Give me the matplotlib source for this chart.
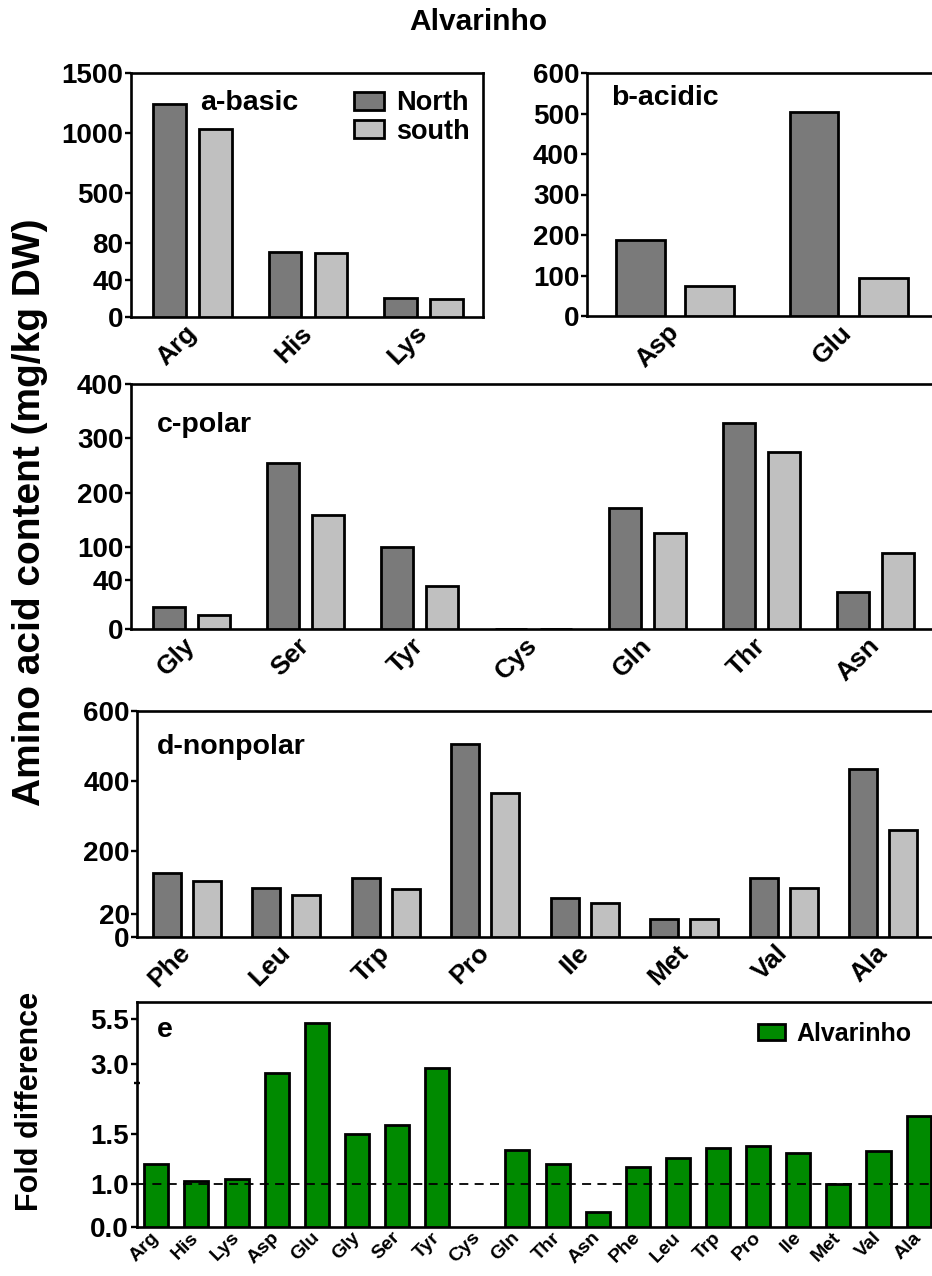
import numpy as np
import matplotlib
matplotlib.use("Agg")
import matplotlib.pyplot as plt

plt.rcParams['font.family'] = ['Liberation Sans', 'DejaVu Sans']
plt.rcParams['font.weight'] = 'bold'

# ---------------- data ----------------
basic_labels = ['Arg', 'His', 'Lys']
basic_north = [1240, 71, 21]
basic_south = [1032, 70, 20]

acidic_labels = ['Asp', 'Glu']
acidic_north = [188, 504]
acidic_south = [75, 95]

polar_labels = ['Gly', 'Ser', 'Tyr', 'Cys', 'Gln', 'Thr', 'Asn']
polar_north = [18, 254, 101, 0.5, 172, 329, 30]
polar_south = [11.6, 160, 35.4, 0.5, 127, 275, 90]

nonpolar_labels = ['Phe', 'Leu', 'Trp', 'Pro', 'Ile', 'Met', 'Val', 'Ala']
nonpolar_north = [136, 93, 122, 504, 65, 15.4, 123, 434]
nonpolar_south = [115, 74, 90.5, 365, 50.5, 15.4, 93, 260]

fold_labels = ['Arg', 'His', 'Lys', 'Asp', 'Glu', 'Gly', 'Ser', 'Tyr', 'Cys', 'Gln',
               'Thr', 'Asn', 'Phe', 'Leu', 'Trp', 'Pro', 'Ile', 'Met', 'Val', 'Ala']
fold_values = [1.20, 1.03, 1.05, 2.55, 5.27, 1.50, 1.58, 2.83, np.nan, 1.34,
               1.20, 0.34, 1.17, 1.26, 1.36, 1.375, 1.31, 1.00, 1.33, 1.67]

NORTH_C = '#7a7a7a'
SOUTH_C = '#c0c0c0'
GREEN_C = '#008a00'

W, H = 932, 1276
fig = plt.figure(figsize=(W / 100, H / 100), dpi=100)


def add_axes_px(left, right, top, bottom):
    return fig.add_axes([left / W, 1 - bottom / H, (right - left) / W, (bottom - top) / H])


def piecewise(ax, vals, pos):
    vals = np.asarray(vals, float)
    pos = np.asarray(pos, float)
    ax.set_yscale('function', functions=(lambda v: np.interp(v, vals, pos),
                                         lambda p: np.interp(p, pos, vals)))


def style(ax, lw=1.9):
    for s in ax.spines.values():
        s.set_linewidth(lw)
    ax.tick_params(axis='y', length=4.5, width=1.7, pad=1, labelsize=20)
    ax.tick_params(axis='x', length=0, pad=9, labelsize=19)
    for lab in ax.get_yticklabels():
        lab.set_fontweight('bold')


def grouped(ax, labels, north, south, xlim, ylim, yticks):
    x = np.arange(len(labels))
    ax.bar(x - 0.2, north, width=0.28, color=NORTH_C, edgecolor='black', linewidth=2.0, label='North', zorder=3)
    ax.bar(x + 0.2, south, width=0.28, color=SOUTH_C, edgecolor='black', linewidth=2.0, label='south', zorder=3)
    ax.set_xlim(*xlim)
    ax.set_ylim(*ylim)
    ax.set_yticks(yticks)
    ax.set_yticklabels([str(t) for t in yticks])
    ax.set_xticks(x)
    ax.set_xticklabels(labels, rotation=45, ha='right', va='center', rotation_mode='anchor',
                       fontweight='bold')
    style(ax)


# ---- panel a ----
axa = add_axes_px(131, 483, 73, 317)
piecewise(axa, [0, 80, 1500], [0, 73.4, 243.4])
grouped(axa, basic_labels, basic_north, basic_south, (-0.532, 2.515), (0, 1500), [0, 40, 80, 500, 1000, 1500])
axa.text(0.196, 0.877, 'a-basic', transform=axa.transAxes, fontsize=20.5, fontweight='bold', va='center', ha='left')
axa.legend(loc='upper right', bbox_to_anchor=(0.962, 0.93), frameon=False, fontsize=19.5,
           handlelength=1.1, handleheight=0.65, labelspacing=0.1, handletextpad=0.45,
           borderpad=0, borderaxespad=0)

# ---- panel b ----
axb = add_axes_px(587, 936, 73, 316)
grouped(axb, acidic_labels, acidic_north, acidic_south, (-0.507, 1.504), (0, 600), [0, 100, 200, 300, 400, 500, 600])
axb.text(0.07, 0.896, 'b-acidic', transform=axb.transAxes, fontsize=20.5, fontweight='bold', va='center', ha='left')

# ---- panel c ----
axc = add_axes_px(131, 936, 384, 629.3)
piecewise(axc, [0, 40, 400], [0, 49.3, 245.3])
grouped(axc, polar_labels, polar_north, polar_south, (-0.531, 6.53), (0, 400), [0, 40, 100, 200, 300, 400])
axc.text(0.032, 0.833, 'c-polar', transform=axc.transAxes, fontsize=20.5, fontweight='bold', va='center', ha='left')

# ---- panel d ----
axd = add_axes_px(137.3, 933, 710.7, 936.7)
piecewise(axd, [0, 20, 600], [0, 22.7, 226])
grouped(axd, nonpolar_labels, nonpolar_north, nonpolar_south, (-0.497, 7.5), (0, 600), [0, 20, 200, 400, 600])
axd.text(0.024, 0.841, 'd-nonpolar', transform=axd.transAxes, fontsize=20.5, fontweight='bold', va='center', ha='left')

# ---- panel e ----
axe = add_axes_px(136.7, 938.3, 1002, 1226.7)
piecewise(axe, [0, 1, 2, 6.43], [0, 42.4, 144, 224.7])
xe = np.arange(len(fold_labels))
axe.bar(xe, fold_values, width=0.6, color=GREEN_C, edgecolor='black', linewidth=2.0, label='Alvarinho', zorder=3)
axe.axhline(1.0, color='black', linestyle=(0, (5, 3.5)), linewidth=1.3, zorder=4)
axe.set_xlim(-0.489, 19.49)
axe.set_ylim(0, 6.43)
axe.set_yticks([0.0, 1.0, 1.5, 3.0, 5.5])
axe.set_yticklabels(['0.0', '1.0', '1.5', '3.0', '5.5'])
axe.set_yticks([2.0], minor=True)
axe.tick_params(axis='y', which='minor', length=4, width=1.7, direction='inout')
axe.set_xticks(xe)
axe.set_xticklabels(fold_labels, rotation=45, ha='right', va='center', rotation_mode='anchor', fontweight='bold')
style(axe)
axe.tick_params(axis='x', labelsize=14, pad=6)
axe.text(0.025, 0.875, 'e', transform=axe.transAxes, fontsize=20.5, fontweight='bold', va='center', ha='left')
axe.legend(loc='upper right', bbox_to_anchor=(0.967, 0.912), frameon=False, fontsize=18,
           handlelength=1.1, handleheight=0.65, handletextpad=0.45, borderpad=0, borderaxespad=0)

# ---- titles / labels ----
fig.text(478 / W, 1 - 22 / H, 'Alvarinho', ha='center', va='center', fontsize=21.5, fontweight='bold')
fig.text(30 / W, 1 - 512 / H, 'Amino acid content (mg/kg DW)', rotation=90, ha='center', va='center',
         fontsize=28, fontweight='bold')
fig.text(30 / W, 1 - 1101 / H, 'Fold difference', rotation=90, ha='center', va='center',
         fontsize=22, fontweight='bold')

fig.savefig('out.png', dpi=100)
